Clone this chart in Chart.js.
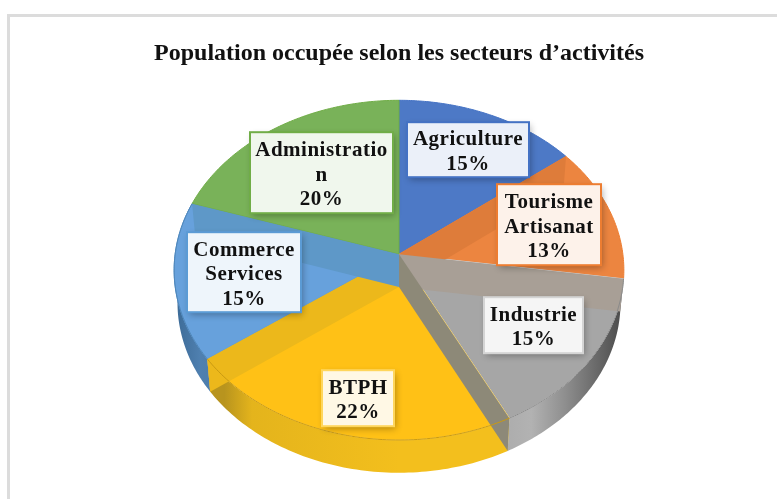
<!DOCTYPE html>
<html><head><meta charset="utf-8">
<script src="https://cdn.jsdelivr.net/npm/chart.js@4/dist/chart.umd.min.js"></script>
<style>
html,body{margin:0;padding:0;background:#fff;width:777px;height:499px;overflow:hidden}
#frame{position:absolute;left:7px;top:14px;width:770px;height:485px;box-sizing:border-box;border-left:3px solid #dcdcdc;border-top:3px solid #dcdcdc}
#wrap{position:absolute;left:0;top:0;width:777px;height:499px;filter:blur(0.5px)}
</style></head><body>
<div id="frame"></div>
<div id="wrap"><canvas id="c" width="777" height="499"></canvas></div>
<script>
const TITLE = 'Population occupée selon les secteurs d’activités';
const categories = [['Agriculture'],['Tourisme','Artisanat'],['Industrie'],['BTPH'],['Commerce','Services'],['Administratio','n']];
const values = [15,13,15,22,15,20];
const faceColors = ['#4D79C6','#EC8540','#A6A6A6','#FFC116','#67A1DC','#79B259'];
const borderColors = ['#4472C4','#ED7D31','#D4D4D4','#FFD65C','#5B9BD5','#70AD47'];
const cutColors = [null,'#DE7C3A','#A89F96','#8D8978','#ECB81B','#5E98C8'];
// label boxes as pixel offsets from pie centre: [dx, dy, w, h]
const boxes = [[8,-132,122,55],[98,-70,104,81],[85,43,99,56],[-77,116,72,56],[-212,-22,114,80],[-149,-122,143,81]];
// perspective projection of the disc
const P = {sx:1.218, sy:0.916, d:-0.094, depth:0.178, foot:0.985, warp:0.044};

function proj(el,angle,low){
  let t=angle+Math.PI/2;
  const T=t/(Math.PI*200/180);
  if(T<1) t-=P.warp*Math.sin(T*Math.PI);
  const x=Math.sin(t), y=-Math.cos(t), den=1+P.d*y, R=el.outerRadius, k=low?P.foot:1;
  return [el.x+k*P.sx*R*x/den, el.y+P.sy*R*y/den+(low?P.depth*R:0)];
}
function rim(el,n,low){
  const pts=[], a=el.startAngle, b=el.endAngle;
  for(let i=0;i<=n;i++) pts.push(proj(el,a+(b-a)*i/n,low));
  return pts;
}
const pie3d = {
  id:'pie3d',
  beforeDatasetDraw(chart,args){
    const ctx=chart.ctx, arcs=chart.getDatasetMeta(args.index).data;
    const c=arcs[0], R=c.outerRadius, D=P.depth*R;
    ctx.save();
    // outer walls
    const wall = {
      2:[[0.45,'#A8A8A8'],[0.72,'#B2B2B2'],[0.9,'#8F8F8F'],[1.22,'#4A4A4A']],
      3:[[-0.95,'#B8941E'],[-0.8,'#E4B41C'],[0,'#F3BF1D'],[0.6,'#F3BF1D']],
      4:[[-1.22,'#3C6A96'],[-1.08,'#4F80B0'],[-0.95,'#4C7CA8']]
    };
    [4,2,3].forEach(i=>{
      const el=arcs[i], top=rim(el,80), low=rim(el,80,true);
      const g=ctx.createLinearGradient(c.x-1.25*R,0,c.x+1.25*R,0);
      wall[i].forEach(([p,col])=>g.addColorStop((p+1.25)/2.5,col));
      ctx.beginPath();
      top.forEach((p,k)=>k?ctx.lineTo(p[0],p[1]):ctx.moveTo(p[0],p[1]));
      low.reverse().forEach(p=>ctx.lineTo(p[0],p[1]));
      ctx.closePath();ctx.fillStyle=g;ctx.fill();
    });
    // top faces
    arcs.forEach((el,i)=>{
      const pts=rim(el,80);
      ctx.beginPath();ctx.moveTo(el.x,el.y);
      pts.forEach(p=>ctx.lineTo(p[0],p[1]));
      ctx.closePath();
      ctx.fillStyle=faceColors[i];ctx.fill();
      ctx.lineWidth=1;ctx.strokeStyle=borderColors[i];ctx.stroke();
    });
    // cut faces seen through the translucent disc
    arcs.forEach((el,i)=>{
      if(!cutColors[i])return;
      const p=proj(el,el.startAngle), q=proj(el,el.startAngle,true);
      ctx.beginPath();ctx.moveTo(el.x,el.y);ctx.lineTo(p[0],p[1]);ctx.lineTo(q[0],q[1]);ctx.lineTo(el.x,el.y+D);ctx.closePath();
      ctx.fillStyle=cutColors[i];ctx.fill();
    });
    // front rim line
    [2,3,4].forEach(i=>{
      const pts=rim(arcs[i],80);
      ctx.beginPath();pts.forEach((p,k)=>k?ctx.lineTo(p[0],p[1]):ctx.moveTo(p[0],p[1]));
      ctx.lineWidth=1;ctx.strokeStyle=['#8A8A8A','#C99A12','#4F85B8'][i-2];ctx.stroke();
    });
    ctx.restore();
    return false;
  },
  afterDatasetsDraw(chart){
    const ctx=chart.ctx, c=chart.getDatasetMeta(0).data[0];
    ctx.save();
    ctx.font='bold 21px "Liberation Serif"';
    ctx.textAlign='center';ctx.textBaseline='middle';
    categories.forEach((lines,i)=>{
      const [dx,dy,w,h]=boxes[i], x=c.x+dx, y=c.y+dy;
      ctx.save();
      ctx.shadowColor='rgba(0,0,0,0.32)';ctx.shadowBlur=7;ctx.shadowOffsetX=1.5;ctx.shadowOffsetY=2.5;
      ctx.fillStyle=faceColors[i];ctx.fillRect(x,y,w,h);
      ctx.restore();
      ctx.fillStyle='rgba(255,255,255,0.89)';ctx.fillRect(x,y,w,h);
      ctx.lineWidth=2;ctx.strokeStyle=borderColors[i];ctx.strokeRect(x,y,w,h);
      const all=lines.concat([values[i]+'%']), lh=24.5;
      ctx.fillStyle='#111';
      ctx.letterSpacing='0.5px';
      all.forEach((t,k)=>ctx.fillText(t,x+w/2,y+h/2+(k-(all.length-1)/2)*lh+2.5));
    });
    ctx.restore();
  }
};
new Chart(document.getElementById('c'),{
  type:'pie',
  data:{labels:categories,datasets:[{data:values,backgroundColor:faceColors,borderWidth:0}]},
  options:{
    responsive:false,animation:false,
    layout:{padding:{left:21,right:0,top:0,bottom:61}},
    plugins:{
      legend:{display:false},tooltip:{enabled:false},
      title:{display:true,text:TITLE,color:'#111',font:{family:'"Liberation Serif"',size:24,weight:'bold',lineHeight:1.1},padding:{top:41,bottom:3}}
    }
  },
  plugins:[pie3d]
});
</script>
</body></html>
